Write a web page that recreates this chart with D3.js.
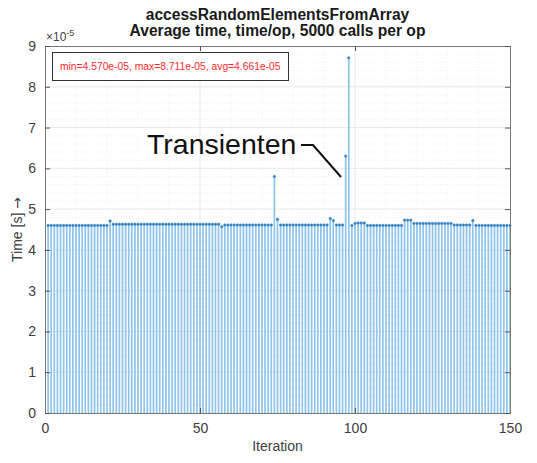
<!DOCTYPE html>
<html><head><meta charset="utf-8">
<script src="https://d3js.org/d3.v7.min.js"></script>
<style>body{margin:0;background:#fff}svg{display:block;font-family:"Liberation Sans",Arial,sans-serif}</style>
</head><body><svg id="c" width="537" height="463"></svg>
<script>
const titleLines = ["accessRandomElementsFromArray", "Average time, time/op, 5000 calls per op"];
const xTicks = [0, 50, 100, 150];
const yTicks = [0, 1, 2, 3, 4, 5, 6, 7, 8, 9];
const statsText = "min=4.570e-05, max=8.711e-05, avg=4.661e-05";
const annotation = "Transienten";
const iterations = d3.range(1, 151);
// values in units of 1e-5 s
const times = [
  4.60,4.60,4.60,4.60,4.60,4.60,4.60,4.60,4.60,4.60,
  4.60,4.60,4.60,4.60,4.60,4.60,4.60,4.60,4.60,4.60,
  4.71,4.63,4.63,4.63,4.63,4.63,4.63,4.63,4.63,4.63,
  4.63,4.63,4.63,4.63,4.63,4.63,4.63,4.63,4.63,4.63,
  4.63,4.63,4.63,4.63,4.63,4.63,4.63,4.63,4.63,4.63,
  4.63,4.63,4.63,4.63,4.63,4.63,4.57,4.61,4.61,4.61,
  4.61,4.61,4.61,4.61,4.61,4.61,4.61,4.61,4.61,4.61,
  4.61,4.61,4.61,5.80,4.75,4.61,4.61,4.61,4.61,4.61,
  4.61,4.61,4.61,4.61,4.61,4.61,4.61,4.61,4.61,4.61,
  4.61,4.77,4.72,4.61,4.61,4.61,6.30,8.71,4.60,4.65,
  4.66,4.66,4.66,4.60,4.60,4.60,4.60,4.60,4.60,4.60,
  4.60,4.60,4.60,4.60,4.60,4.73,4.73,4.73,4.65,4.65,
  4.65,4.65,4.65,4.65,4.65,4.65,4.65,4.65,4.65,4.65,
  4.65,4.61,4.61,4.61,4.61,4.61,4.61,4.72,4.60,4.60,
  4.60,4.60,4.60,4.60,4.60,4.60,4.60,4.60,4.60,4.60
];

const svg = d3.select("#c");
const L = 45, R = 510, T = 46, B = 413;
const x = d3.scaleLinear().domain([0, 150]).range([L, R]);
const y = d3.scaleLinear().domain([0, 9]).range([B, T]);
const axisCol = "#404040";

// minor grid
const g = svg.append("g");
g.selectAll(".mx").data(d3.range(10, 150, 10).filter(v => v % 50)).enter().append("line")
  .attr("x1", d => x(d)).attr("x2", d => x(d)).attr("y1", T).attr("y2", B)
  .attr("stroke", "#e4e4e4").attr("stroke-width", 0.6).attr("stroke-dasharray", "1,2");
g.selectAll(".my").data(d3.range(0.2, 9, 0.2).filter(v => Math.abs(v - Math.round(v)) > 0.01)).enter().append("line")
  .attr("y1", d => y(d)).attr("y2", d => y(d)).attr("x1", L).attr("x2", R)
  .attr("stroke", "#e4e4e4").attr("stroke-width", 0.6).attr("stroke-dasharray", "1,2");
// major grid
g.selectAll(".gx").data(xTicks.slice(1, -1)).enter().append("line")
  .attr("x1", d => x(d)).attr("x2", d => x(d)).attr("y1", T).attr("y2", B)
  .attr("stroke", "#e2e2e2").attr("stroke-width", 0.8);
g.selectAll(".gy").data(yTicks.slice(1, -1)).enter().append("line")
  .attr("y1", d => y(d)).attr("y2", d => y(d)).attr("x1", L).attr("x2", R)
  .attr("stroke", "#e2e2e2").attr("stroke-width", 0.8);

// stems
const data = iterations.map((it, i) => ({it, v: times[i]}));
svg.append("g").selectAll("line").data(data).enter().append("line")
  .attr("x1", d => x(d.it)).attr("x2", d => x(d.it))
  .attr("y1", y(0)).attr("y2", d => y(d.v))
  .attr("stroke", "#8ec3ea").attr("stroke-width", 1.7);
svg.append("g").selectAll("circle").data(data).enter().append("circle")
  .attr("cx", d => x(d.it)).attr("cy", d => y(d.v)).attr("r", 1.2)
  .attr("fill", "#3482c2").attr("stroke", "#3482c2").attr("stroke-width", 0.6);

// axes
const xa = svg.append("g").attr("transform", `translate(0,${B})`)
  .call(d3.axisBottom(x).tickValues(xTicks).tickSize(-5).tickPadding(10));
const xt = svg.append("g").attr("transform", `translate(0,${T})`)
  .call(d3.axisTop(x).tickValues(xTicks).tickSize(-5).tickFormat(""));
const ya = svg.append("g").attr("transform", `translate(${L},0)`)
  .call(d3.axisLeft(y).tickValues(yTicks).tickSize(-5).tickPadding(9));
const yr = svg.append("g").attr("transform", `translate(${R},0)`)
  .call(d3.axisRight(y).tickValues(yTicks).tickSize(-5).tickFormat(""));
[xa, xt, ya, yr].forEach(a => {
  a.select(".domain").attr("stroke", "#777");
  a.selectAll(".tick line").attr("stroke", "#555");
  a.selectAll("text").attr("fill", axisCol).attr("font-size", 14).attr("font-family", "Liberation Sans, Arial, sans-serif");
});

// exponent
const ex = svg.append("text").attr("x", L + 1).attr("y", 41).attr("fill", axisCol).attr("font-size", 12);
ex.append("tspan").text("\u00d710");
ex.append("tspan").attr("dy", -5).attr("font-size", 9).text("-5");

// title
svg.selectAll(".title").data(titleLines).enter().append("text")
  .attr("x", (L + R) / 2).attr("y", (d, i) => 20 + i * 16)
  .attr("text-anchor", "middle").attr("font-weight", "bold").attr("font-size", 15.6)
  .attr("fill", "#1a1a1a").text(d => d);

// labels
svg.append("text").attr("x", (L + R) / 2).attr("y", 451).attr("text-anchor", "middle")
  .attr("font-size", 14).attr("fill", axisCol).text("Iteration");
const yl = svg.append("text").attr("transform", `translate(22,${(T + B) / 2}) rotate(-90)`)
  .attr("text-anchor", "middle").attr("font-size", 14).attr("fill", axisCol);
yl.append("tspan").text("Time [s] ");
yl.append("tspan").attr("font-family", "DejaVu Sans").attr("font-size", 14).text("\u2192");

// stats legend box
svg.append("rect").attr("x", 52.5).attr("y", 52.5).attr("width", 236).attr("height", 28)
  .attr("fill", "#fff").attr("stroke", "#333").attr("stroke-width", 1);
svg.append("text").attr("x", 60).attr("y", 70).attr("font-size", 10.3).attr("fill", "#ff2a2a").text(statsText);

// annotation
svg.append("text").attr("x", 147).attr("y", 154).attr("font-size", 28.5).attr("fill", "#111").text(annotation);
svg.append("path").attr("d", "M301,145 L313,145 L341,177").attr("fill", "none")
  .attr("stroke", "#111").attr("stroke-width", 2);
</script></body></html>
